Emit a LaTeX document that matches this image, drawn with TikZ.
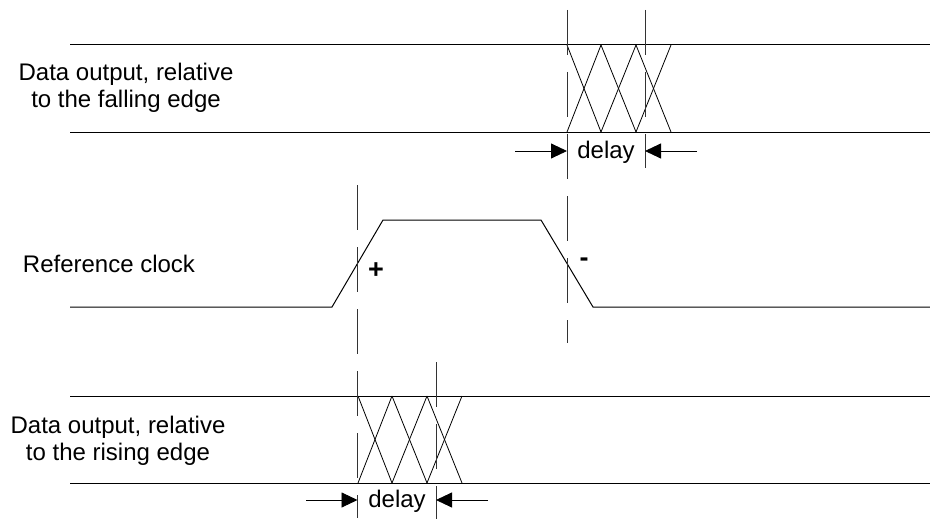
\documentclass[tikz,border=0pt]{standalone}
\usepackage{fontspec}
\setmainfont{Liberation Sans}
\usetikzlibrary{arrows.meta}
\begin{document}
\begin{tikzpicture}[x=1pt,y=-1pt,
  sig/.style={line width=1pt, black},
  xing/.style={line width=0.8pt, black},
  guide/.style={line width=1pt, black!80, dash pattern=on 45pt off 17pt},
  dim/.style={line width=0.9pt, black, -{Triangle[length=16pt,width=15pt]}},
  lbl/.style={font=\fontsize{24}{27}\selectfont, inner sep=0pt, align=center},
  sgn/.style={font=\bfseries\fontsize{27}{27}\selectfont, inner sep=0pt},
]
\useasboundingbox (0,0) rectangle (930,519);
% labels
\node[lbl, anchor=base] (lfall) at (126,107) {Data output, relative\\to the falling edge};
\node[lbl, anchor=base] (lclk) at (109,272) {Reference clock};
\node[lbl, anchor=base] (lrise) at (118,460) {Data output, relative\\to the rising edge};
% top data
\draw[sig] (70,45) -- (930,45);
\draw[sig] (70,132) -- (930,132);
\foreach \a/\b in {567/601,601/636,636/671}{
  \draw[xing] (\a,45) -- (\b,132);
  \draw[xing] (\b,45) -- (\a,132);
}
% clock
\draw[sig] (70,307) -- (332,307) -- (383,220) -- (541,220) -- (593,307) -- (930,307);
\node[sgn] (plus) at (376,271) {+};
\node[sgn] (minus) at (584,262) {-};
% bottom data
\draw[sig] (70,396) -- (930,396);
\draw[sig] (70,483) -- (930,483);
\foreach \a/\b in {358/392,392/427,427/462}{
  \draw[xing] (\a,396) -- (\b,483);
  \draw[xing] (\b,396) -- (\a,483);
}
% guides
\draw[guide] (567,10) -- (567,343);
\draw[guide] (645,10) -- (645,168);
\draw[guide] (357.5,185) -- (357.5,518);
\draw[guide] (436,362) -- (436,519);
% delay top
\coordinate (tla) at (515,151);
\coordinate (tlb) at (567,151);
\coordinate (tra) at (697,151);
\coordinate (trb) at (645,151);
\draw[dim] (tla) -- (tlb);
\draw[dim] (tra) -- (trb);
\node[lbl, anchor=base] (tdelay) at (606,158) {delay};
% delay bottom
\coordinate (bla) at (306,500);
\coordinate (blb) at (357.5,500);
\coordinate (bra) at (488,500);
\coordinate (brb) at (436,500);
\draw[dim] (bla) -- (blb);
\draw[dim] (bra) -- (brb);
\node[lbl, anchor=base] (bdelay) at (397,507) {delay};
\end{tikzpicture}
\end{document}
